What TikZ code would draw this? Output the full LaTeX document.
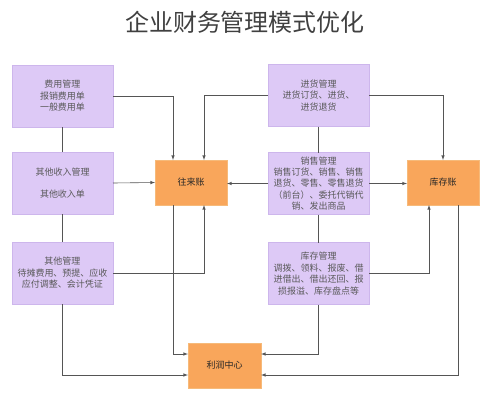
\documentclass[tikz,border=0pt]{standalone}
\usepackage{fontspec}
\newfontfamily\cjk{Noto Sans CJK SC}
\usetikzlibrary{arrows,positioning}

\definecolor{lavfill}{HTML}{DDC9F6}
\definecolor{lavline}{HTML}{CDB6EC}
\definecolor{orgfill}{HTML}{F9A65B}
\definecolor{orgline}{HTML}{F6BA7A}
\definecolor{wire}{HTML}{555555}

\begin{document}
\begin{tikzpicture}[x=1pt, y=-1pt, >=latex, node distance=25pt,
    task/.style={rectangle, draw=lavline, fill=lavfill, minimum width=101pt, minimum height=62pt,
        inner sep=2pt, outer sep=0pt, align=center, text=black!65,
        font=\cjk\fontsize{9}{11.5}\selectfont},
    acct/.style={rectangle, draw=orgline, fill=orgfill, minimum width=72pt, minimum height=45pt,
        outer sep=0pt, text=black!85, font=\cjk\fontsize{9}{11.5}\selectfont},
    link/.style={draw=wire, line width=0.6pt}]
    \useasboundingbox (0,0) rectangle (491,400);

    \node (title) at (245,22) [font=\cjk\fontsize{24}{26}\selectfont, text=black!75] {企业财务管理模式优化};

    % left column
    \node (fee) at (62.5,96) [task] {费用管理\\报销费用单\\一般费用单};
    \node (inc) [task, below=25pt of fee] {其他收入管理\\[11pt]其他收入单};
    \node (oth) [task, below=28pt of inc] {其他管理\\待摊费用、预提、应收\\应付调整、会计凭证};

    % right column
    \node (buy)   at (318.5,95.5) [task] {进货管理\\进货订货、进货、\\进货退货};
    \node (sale)  [task, below=26pt of buy, font=\cjk\fontsize{9}{11.3}\selectfont]
        {销售管理\\销售订货、销售、销售\\退货、零售、零售退货\\（前台）、委托代销代\\销、发出商品};
    \node (stock) [task, below=28pt of sale] {库存管理\\调拨、领料、报废、借\\进借出、借出还回、报\\损报溢、库存盘点等};

    % accounts
    \node (wl) at (191,182.5) [acct] {往来账};
    \node (kc) at (443,182.5) [acct] {库存账};
    \node (lr) at (224.5,365.5) [acct, minimum width=73pt] {利润中心};

    \path [link, ->] (fee.east) -| ([xshift=-18pt]wl.north);
    \path [link, ->] (buy.west) -| ([xshift=13pt]wl.north);
    \path [link, ->] (inc.east) -- (wl.west);
    \path [link, ->] (sale.west) -- (sale.west -| wl.east);
    \path [link, ->] (oth.east) -| ([xshift=13pt]wl.south);
    \path [link, ->] ([xshift=-18pt]wl.south) |- ([yshift=11.5pt]lr.west);

    \path [link] (fee.south) -- (inc.north);
    \path [link] (inc.south) -- (oth.north);
    \path [link, ->] (oth.south) |- ([yshift=-9.5pt]lr.west);

    \path [link] (buy.south) -- (sale.north);
    \path [link] (sale.south) -- (stock.north);
    \path [link, ->] (stock.south) |- ([yshift=11.5pt]lr.east);

    \path [link, ->] (buy.east) -| (kc.north);
    \path [link, ->] (sale.east) -- (sale.east -| kc.west);
    \path [link, ->] (stock.east) -| ([xshift=-14pt]kc.south);
    \path [link, ->] ([xshift=15pt]kc.south) |- ([yshift=-9.5pt]lr.east);
\end{tikzpicture}
\end{document}
